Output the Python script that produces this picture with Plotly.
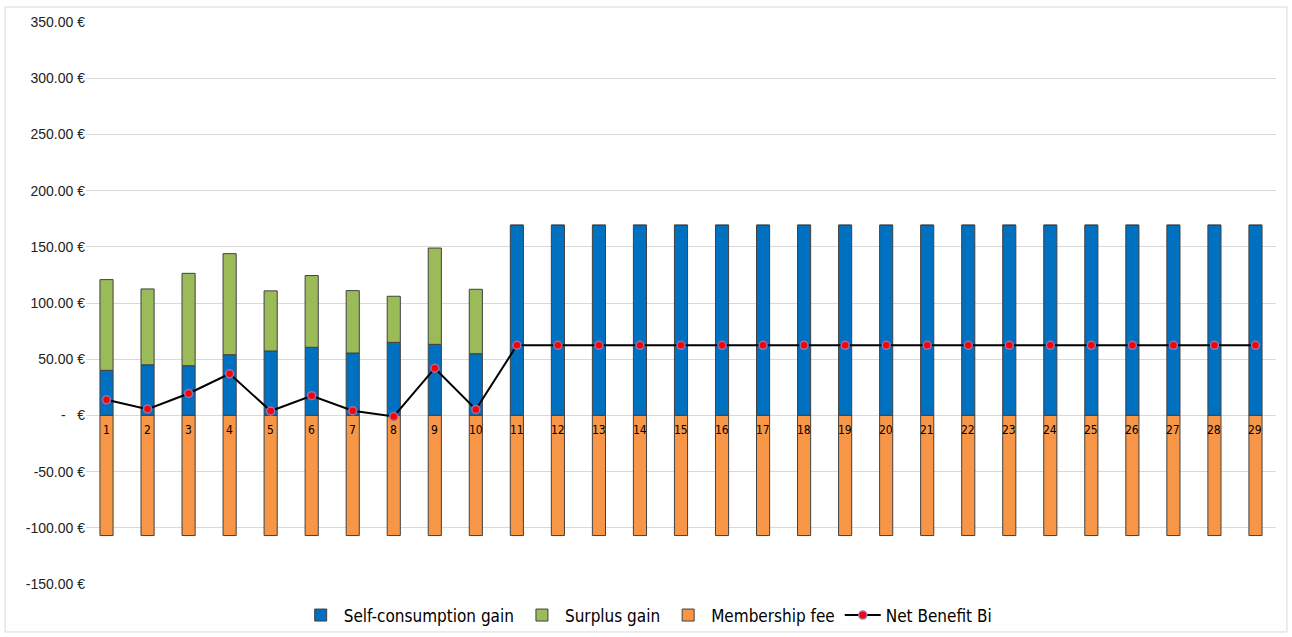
import plotly.graph_objects as go

# Members 1..29
members = [str(i) for i in range(1, 30)]

self_consumption = [40.1, 45.0, 44.2, 54.0, 57.3, 60.6, 55.5, 65.0, 63.2, 54.9] + [169.2] * 19
surplus = [80.7, 67.5, 82.2, 89.9, 53.5, 63.8, 55.5, 41.0, 85.7, 57.3] + [0.0] * 19
membership_fee = [-106.9] * 29
net_benefit = [13.9, 5.6, 19.5, 37.0, 3.9, 17.5, 4.1, -0.9, 42.0, 5.3] + [62.3] * 19

tick_vals = [-150, -100, -50, 0, 50, 100, 150, 200, 250, 300, 350]
tick_text = ["-150.00 €", "-100.00 €", "-50.00 €", "-   €", "50.00 €", "100.00 €",
             "150.00 €", "200.00 €", "250.00 €", "300.00 €", "350.00 €"]

edge = dict(color="#404040", width=1)
narrow = "DejaVu Sans Condensed, Liberation Sans Narrow, sans-serif"

fig = go.Figure()
fig.add_trace(go.Bar(x=members, y=self_consumption, name="Self-consumption gain",
                     marker=dict(color="#0070C0", line=edge)))
fig.add_trace(go.Bar(x=members, y=surplus, name="Surplus gain",
                     marker=dict(color="#9BBB59", line=edge)))
fig.add_trace(go.Bar(x=members, y=membership_fee, name="Membership fee",
                     marker=dict(color="#F79646", line=edge)))
fig.add_trace(go.Scatter(x=members, y=net_benefit, name="Net Benefit Bi",
                         mode="lines+markers",
                         line=dict(color="black", width=2),
                         marker=dict(color="#FF0000", size=8,
                                     line=dict(color="#9B6FB0", width=1.5))))

# category labels sit at the zero line (x given as category index)
for i, m in enumerate(members):
    fig.add_annotation(x=i, y=0, text=m, showarrow=False, yanchor="top", yshift=-6,
                       font=dict(family=narrow, size=12, color="black"))

fig.update_layout(
    barmode="relative",
    bargap=0.68,
    width=1292, height=637,
    margin=dict(l=86, r=16, t=22, b=53, autoexpand=False),
    plot_bgcolor="white", paper_bgcolor="white",
    font=dict(family="Liberation Sans, Arial, sans-serif", size=13, color="#222222"),
    xaxis=dict(type="category", range=[-0.5, 28.5],
               showticklabels=False, ticks="", showgrid=False, showline=False,
               zeroline=False),
    yaxis=dict(range=[-150, 350], tickvals=tick_vals, ticktext=tick_text,
               showgrid=True, gridcolor="#d9d9d9", gridwidth=1,
               zeroline=True, zerolinecolor="#d9d9d9", zerolinewidth=1,
               ticks="", ticklen=0, tickfont=dict(size=14, color="#222222")),
    legend=dict(orientation="h", x=0.472, xanchor="center",
                yref="container", y=0.062, yanchor="top",
                bgcolor="rgba(0,0,0,0)",
                font=dict(family=narrow, size=17, color="black"),
                itemwidth=36, traceorder="normal"),
    showlegend=True,
    shapes=[dict(type="rect", xref="paper", yref="paper",
                 x0=-0.068, x1=1.0092, y0=-0.0854, y1=1.0267,
                 line=dict(color="#d9d9d9", width=1), layer="below")],
)

fig.write_html("out.html")
